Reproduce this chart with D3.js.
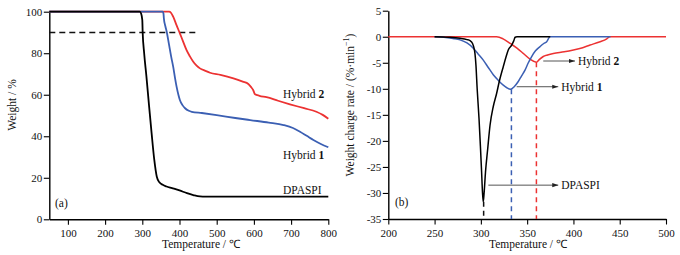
<!DOCTYPE html>
<html>
<head>
<meta charset="utf-8">
<script src="https://cdn.jsdelivr.net/npm/d3@7"></script>
<style>
  body { margin: 0; background: #fff; }
  svg { display: block; font-family: "Liberation Serif", "Times New Roman", serif; }
</style>
</head>
<body>
<svg id="chart" width="680" height="255"></svg>
<script>
// ---- data ----
// (a) TGA: weight % vs temperature
const tgaDpaspiT = [50, 293, 297, 300, 301, 305, 311, 318, 325, 332, 339, 346, 355, 365, 380, 400, 420, 437, 455, 470, 800];
const tgaDpaspiW = [100, 100, 99, 96, 90, 80, 69, 55, 41.5, 29, 20.5, 17.8, 16.6, 15.8, 15, 13.9, 12.6, 11.7, 11, 10.9, 10.9];

const tgaHyb1T = [50, 355, 357, 358, 362, 366, 372, 378, 383, 388, 392, 397, 401, 408, 415, 425, 433, 460, 500, 550, 590, 640, 680, 705, 724, 742, 760, 780, 800];
const tgaHyb1W = [100, 100, 99, 96.8, 93, 90, 84, 78, 73.5, 68, 64, 60, 57.5, 55, 53.5, 52.3, 51.8, 51.2, 50.2, 48.8, 47.8, 46.6, 45.4, 44, 42.2, 40.2, 38.2, 36.3, 34.7];

const tgaHyb2T = [50, 372, 377, 383, 392, 401, 410, 419, 428, 437, 446, 455, 470, 482, 510, 545, 570, 585, 592, 598, 603, 615, 634, 665, 697, 735, 768, 785, 800];
const tgaHyb2W = [100, 100, 99.5, 97.6, 93.5, 89.6, 85.5, 81.5, 78.5, 75.9, 74, 72.7, 71.5, 70.6, 69.6, 67.9, 66.3, 65.2, 63.8, 62.3, 60.2, 59.5, 58.8, 57.1, 55.4, 53.5, 51.8, 50.3, 48.4];

// (b) DTG: weight change rate vs temperature
const dtgDpaspiT = [250, 265, 277.5, 285, 288.3, 291, 292.6, 293.6, 294.7, 296, 298, 299.5, 300.8, 301.8, 302.6, 303.5, 305, 307.4, 309.9, 313.4, 317, 320, 324.2, 327, 329.6, 333.3, 335.5, 337, 339, 375];
const dtgDpaspiV = [0, -0.1, -0.3, -0.55, -0.75, -1.3, -2.2, -3.2, -5.5, -10, -15.7, -21, -26, -30, -31.7, -30, -26, -21.5, -17, -13.4, -10.9, -8.5, -5.75, -4, -2.55, -1.6, -0.8, -0.1, 0, 0];

const dtgHyb1T = [250, 260, 270, 277.5, 285, 291.8, 297, 302.6, 308, 313.4, 319, 324.2, 328, 332.2, 336, 340.4, 344, 347.7, 351, 354.9, 359, 363.9, 368, 371.1, 374.7, 440];
const dtgHyb1V = [0, -0.1, -0.35, -0.6, -1.2, -2.2, -3.3, -4.5, -5.9, -7.3, -8.4, -9.3, -9.8, -10.1, -9.6, -8.6, -7.5, -6.4, -5.1, -3.8, -2.7, -1.9, -1.3, -0.95, 0, 0];

const dtgHyb2T = [200, 317, 324, 331.5, 339, 345.8, 353, 360, 363, 367.4, 372, 378.3, 390, 400, 410, 418, 428, 436, 439, 500];
const dtgHyb2V = [0, 0, -0.4, -1.26, -2.2, -3.2, -4.3, -4.9, -4.4, -3.8, -3.5, -3.2, -2.9, -2.55, -2.1, -1.6, -1.0, -0.4, 0, 0];

// peak markers on (b): temperature and peak value
const peakT = [303, 333, 360];
const peakV = [-31.7, -10.1, -4.9];

const red = "#ec3232", blue = "#3b5fb3";

const svg = d3.select("#chart");
const zip = (xs, ys) => xs.map((x, i) => [x, ys[i]]);

// ---------- helper for axes with minor ticks ----------
function drawAxes(g, x, y, xMajor, xMinor, yMajor, yMinor) {
  const gx = g.append("g").attr("transform", `translate(0,${y.range()[0]})`);
  gx.call(d3.axisBottom(x).tickValues(xMinor).tickSize(3.5).tickFormat(""));
  gx.call(d3.axisBottom(x).tickValues(xMajor).tickSize(5.5).tickSizeOuter(0).tickFormat(d => d));
  const gy = g.append("g").attr("transform", `translate(${x.range()[0]},0)`);
  gy.call(d3.axisLeft(y).tickValues(yMinor).tickSize(3.5).tickFormat(""));
  gy.call(d3.axisLeft(y).tickValues(yMajor).tickSize(5.5).tickSizeOuter(0).tickFormat(d => String(d)));
  g.selectAll(".domain").attr("stroke", "#000").attr("stroke-width", 1.4);
  g.selectAll(".tick line").attr("stroke", "#000").attr("stroke-width", 1.1);
  g.selectAll(".tick text").attr("font-family", "Liberation Serif, serif").attr("font-size", 11).attr("fill", "#111");
  gx.selectAll(".tick text").attr("dy", "0.85em");
  gy.selectAll(".tick text").attr("x", -7);
}

// ================= panel (a) =================
const xa = d3.scaleLinear().domain([50, 800]).range([49.3, 328.3]);
const ya = d3.scaleLinear().domain([0, 100]).range([219.3, 11.7]);
const ga = svg.append("g");

drawAxes(ga, xa,  ya,
  d3.range(100, 801, 100), d3.range(50, 801, 50),
  d3.range(0, 101, 20), d3.range(0, 101, 10));

const lineA = d3.line().x(d => xa(d[0])).y(d => ya(d[1])).curve(d3.curveMonotoneX);

ga.append("line")
  .attr("x1", xa(50)).attr("x2", xa(450))
  .attr("y1", ya(90)).attr("y2", ya(90))
  .attr("stroke", "#111").attr("stroke-width", 1.5).attr("stroke-dasharray", "6,4");

ga.append("path").datum(zip(tgaHyb2T, tgaHyb2W)).attr("d", lineA)
  .attr("fill", "none").attr("stroke", red).attr("stroke-width", 1.8);
ga.append("path").datum(zip(tgaHyb1T, tgaHyb1W)).attr("d", lineA)
  .attr("fill", "none").attr("stroke", blue).attr("stroke-width", 1.8);
ga.append("path").datum(zip(tgaDpaspiT, tgaDpaspiW)).attr("d", lineA)
  .attr("fill", "none").attr("stroke", "#000").attr("stroke-width", 1.8);

const labA = ga.append("g").attr("font-size", 11.5).attr("fill", "#111");
let t = labA.append("text").attr("x", 283).attr("y", 98);
t.append("tspan").text("Hybrid ");
t.append("tspan").attr("font-weight", "bold").text("2");
t = labA.append("text").attr("x", 283).attr("y", 159);
t.append("tspan").text("Hybrid ");
t.append("tspan").attr("font-weight", "bold").text("1");
labA.append("text").attr("x", 283).attr("y", 194).text("DPASPI");
labA.append("text").attr("x", 55).attr("y", 207).text("(a)");

svg.append("text").attr("x", 201).attr("y", 248).attr("text-anchor", "middle")
  .attr("font-size", 11.5).attr("fill", "#111").text("Temperature / ℃");
svg.append("text").attr("transform", "translate(16,105) rotate(-90)").attr("text-anchor", "middle")
  .attr("font-size", 11.5).attr("fill", "#111").text("Weight / %");

// ================= panel (b) =================
const xb = d3.scaleLinear().domain([200, 500]).range([388.3, 666]);
const yb = d3.scaleLinear().domain([-35, 5]).range([219, 10.7]);
const gb = svg.append("g");

drawAxes(gb, xb, yb,
  d3.range(200, 501, 50), d3.range(200, 501, 25),
  d3.range(-35, 6, 5), d3.range(-35, 6, 2.5));

const lineB = d3.line().x(d => xb(d[0])).y(d => yb(d[1])).curve(d3.curveMonotoneX);

// dashed drop lines from peaks
const peakCol = ["#111", blue, red];
peakT.forEach((p, i) => {
  gb.append("line")
    .attr("x1", xb(p)).attr("x2", xb(p))
    .attr("y1", yb(peakV[i])).attr("y2", yb(-35))
    .attr("stroke", peakCol[i]).attr("stroke-width", 1.5).attr("stroke-dasharray", "5,4");
});

gb.append("path").datum(zip(dtgHyb2T, dtgHyb2V)).attr("d", lineB)
  .attr("fill", "none").attr("stroke", red).attr("stroke-width", 1.5);
gb.append("path").datum(zip(dtgHyb1T, dtgHyb1V)).attr("d", lineB)
  .attr("fill", "none").attr("stroke", blue).attr("stroke-width", 1.5);
gb.append("path").datum(zip(dtgDpaspiT, dtgDpaspiV)).attr("d", lineB)
  .attr("fill", "none").attr("stroke", "#000").attr("stroke-width", 1.5);

// arrows with labels
svg.append("defs").append("marker")
  .attr("id", "arr").attr("viewBox", "0 0 10 10").attr("refX", 10).attr("refY", 5)
  .attr("markerWidth", 6).attr("markerHeight", 6).attr("orient", "auto")
  .append("path").attr("d", "M0,1.5L10,5L0,8.5Z").attr("fill", "#222");

const arrows = [
  {x0: 367.4, x1: 401.7, v: -4.66, name: "Hybrid ", num: "2"},
  {x0: 338.7, x1: 383.6, v: -9.6, name: "Hybrid ", num: "1"},
  {x0: 308.1, x1: 383.6, v: -28.5, name: "DPASPI", num: ""}
];
arrows.forEach(a => {
  gb.append("line")
    .attr("x1", xb(a.x0)).attr("x2", xb(a.x1))
    .attr("y1", yb(a.v)).attr("y2", yb(a.v))
    .attr("stroke", "#555").attr("stroke-width", 1).attr("marker-end", "url(#arr)");
  const tx = gb.append("text").attr("x", xb(a.x1) + 3).attr("y", yb(a.v) + 4)
    .attr("font-size", 11.5).attr("fill", "#111");
  tx.append("tspan").text(a.name);
  if (a.num) tx.append("tspan").attr("font-weight", "bold").text(a.num);
});

gb.append("text").attr("x", 395).attr("y", 206).attr("font-size", 11.5).attr("fill", "#111").text("(b)");

svg.append("text").attr("x", 528).attr("y", 248).attr("text-anchor", "middle")
  .attr("font-size", 11.5).attr("fill", "#111").text("Temperature / ℃");
const yl = svg.append("text").attr("transform", "translate(354,105) rotate(-90)").attr("text-anchor", "middle")
  .attr("font-size", 11.5).attr("fill", "#111");
yl.append("tspan").text("Weight charge rate / (%·min");
yl.append("tspan").attr("font-size", 8).attr("dy", -5).text("−1");
yl.append("tspan").attr("dy", 5).text(")");
</script>
</body>
</html>
